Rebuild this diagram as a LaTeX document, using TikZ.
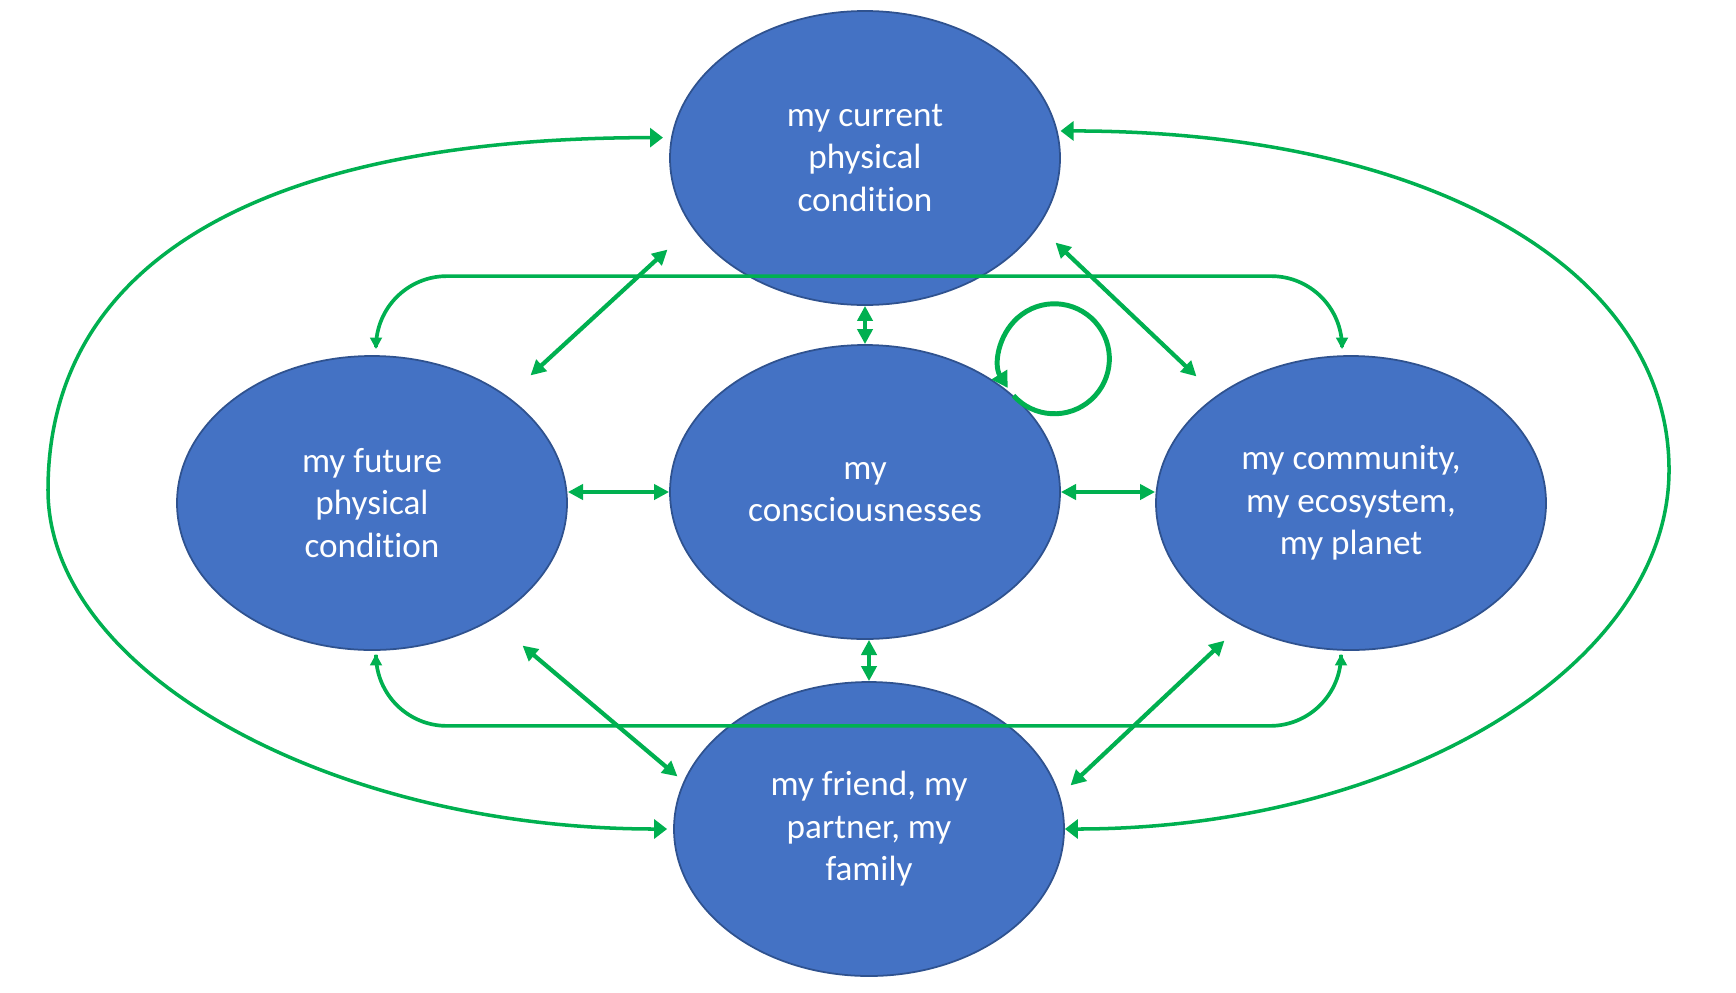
\documentclass[tikz,border=0pt]{standalone}
\usepackage{fontspec}
\setmainfont[Ligatures=NoCommon]{Carlito}
\usetikzlibrary{shapes.geometric,arrows.meta,calc}
\definecolor{bubfill}{HTML}{4472C4}
\definecolor{bubline}{HTML}{2F528F}
\definecolor{linkgreen}{HTML}{00B050}

\begin{document}
\begin{tikzpicture}[
  bub/.style={ellipse,draw=bubline,fill=bubfill,line width=0.5pt,minimum width=3.9cm,minimum height=2.94cm,
    inner sep=0pt,text=white,align=center,font=\fontsize{10}{12.1}\selectfont},
  arcL/.style={draw=linkgreen,line width=1pt,{Triangle[length=3.7pt,width=5.4pt]}-{Triangle[length=3.7pt,width=5.4pt]}},
  barL/.style={draw=linkgreen,line width=1.05pt,rounded corners=7.1mm,{Triangle[length=3.3pt,width=3.3pt]}-{Triangle[length=3.3pt,width=3.3pt]}},
  dia/.style={draw=linkgreen,line width=1.2pt,{Triangle[length=4.3pt,width=4.3pt]}-{Triangle[length=4.3pt,width=4.3pt]}},
  selfL/.style={draw=linkgreen,line width=1.4pt,-{Triangle[length=4.5pt,width=5pt]}}]
\useasboundingbox (0,0) rectangle (17.36,9.92);
% five bubbles
\node[bub] (cur) at (8.65,8.34) {my current\\physical\\condition};
\node[bub] (mind) at (8.65,5.00) {my\\consciousnesses};
\node[bub] (fut) at (3.72,4.89) {my future\\physical\\condition};
\node[bub] (world) at (13.51,4.89) {my community,\\my ecosystem,\\my planet};
\node[bub] (kin) at (8.69,1.63) {my friend, my\\partner, my\\family};
% big outer arcs
\coordinate (farL) at (0.48,5.02);
\coordinate (farR) at (16.69,5.22);
\draw[arcL] ([xshift=-0.6mm]kin.west) .. controls +(-3.35,0) and +(0,-1.83) .. (farL)
  .. controls +(0,2.29) and +(-4.0,0) .. ([xshift=-0.8mm]cur.174);
\draw[arcL] ([xshift=0.3mm]cur.8) .. controls +(3.65,0) and +(0,2.03) .. (farR)
  .. controls +(0,-1.97) and +(3.33,0) .. (kin.east);
% rounded bars between the side bubbles
\draw[barL] ([shift={(0.04,0.06)}]fut.north) -- ++(0,0.73) -| ([shift={(-0.09,0.06)}]world.north);
\draw[barL] ([shift={(0.04,-0.03)}]fut.south) -- ++(0,-0.72) -| ([shift={(-0.10,-0.03)}]world.south);
% diagonals
\draw[dia] ([shift={(-0.59,0.13)}]cur.south west) -- ([shift={(0.20,0.23)}]fut.north east);
\draw[dia] ([shift={(0.52,0.20)}]cur.south east) -- ([shift={(-0.16,0.22)}]world.north west);
\draw[dia] ([shift={(0.12,-0.38)}]fut.south east) -- ([shift={(-0.53,-0.52)}]kin.north west);
\draw[dia] ([shift={(0.12,-0.33)}]world.south west) -- ([shift={(0.63,-0.61)}]kin.north east);
% straight links to the centre
\draw[dia] (cur.south) -- (mind.north);
\draw[dia] (kin.north |- mind.south) -- (kin.north);
\draw[dia] (mind.west -| fut.east) -- (mind.west);
\draw[dia] (mind.east) -- (mind.east -| world.west);
% self loop
\draw[selfL] (mind.33) arc[start angle=222,end angle=572,radius=0.55];
\end{tikzpicture}
\end{document}
